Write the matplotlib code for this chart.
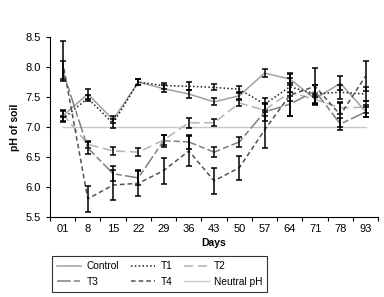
import numpy as np
import matplotlib.pyplot as plt

days = ['01', '8', '15', '22', '29', '36', '43', '50', '57', '64', '71', '78', '93']

control = [7.18, 7.55, 7.12, 7.75, 7.64, 7.55, 7.42, 7.52, 7.90, 7.80, 7.47, 7.73, 7.26]
control_err = [0.08, 0.08, 0.06, 0.05, 0.06, 0.07, 0.06, 0.06, 0.06, 0.10, 0.10, 0.12, 0.10]
t1 = [7.13, 7.48, 7.06, 7.75, 7.69, 7.68, 7.66, 7.63, 7.38, 7.67, 7.55, 7.58, 7.55]
t1_err = [0.05, 0.05, 0.08, 0.05, 0.05, 0.07, 0.05, 0.06, 0.10, 0.15, 0.15, 0.12, 0.12]
t2 = [7.22, 6.71, 6.60, 6.58, 6.78, 7.07, 7.07, 7.40, 7.28, 7.58, 7.46, 7.32, 7.33]
t2_err = [0.06, 0.06, 0.07, 0.07, 0.08, 0.08, 0.06, 0.05, 0.10, 0.15, 0.08, 0.10, 0.10]
t3 = [7.95, 6.65, 6.22, 6.15, 6.77, 6.75, 6.58, 6.75, 7.25, 7.38, 7.60, 7.05, 7.25]
t3_err = [0.15, 0.10, 0.12, 0.12, 0.10, 0.12, 0.08, 0.08, 0.15, 0.20, 0.10, 0.10, 0.08]
t4 = [8.10, 5.80, 6.03, 6.06, 6.27, 6.60, 6.10, 6.32, 6.95, 7.53, 7.68, 7.20, 7.85]
t4_err = [0.33, 0.22, 0.25, 0.22, 0.22, 0.25, 0.22, 0.20, 0.30, 0.35, 0.30, 0.20, 0.25]
neutral = [7.0] * len(days)

plt.rcParams['font.family'] = ['Liberation Sans Narrow', 'Liberation Sans', 'DejaVu Sans']

x = np.arange(len(days))

fig = plt.figure(figsize=(3.84, 2.97), dpi=100)
ax = fig.add_axes([0.13, 0.27, 0.855, 0.605])

ln_n, = ax.plot(x, neutral, color='#c8c8c8', lw=1.0, label='Neutral pH')
series = [
    (control, control_err, 'Control', '#a0a0a0', '-'),
    (t1, t1_err, 'T1', '#202020', (0, (1, 1.5))),
    (t2, t2_err, 'T2', '#b4b4b4', (0, (6, 3))),
    (t3, t3_err, 'T3', '#808080', (0, (9, 2, 4, 2))),
    (t4, t4_err, 'T4', '#505050', (0, (3, 2))),
]
lines = {}
for vals, err, name, col, ls in series:
    ln, = ax.plot(x, vals, color=col, ls=ls, lw=1.1, label=name)
    ax.errorbar(x, vals, yerr=err, fmt='none', ecolor='black', elinewidth=1.1,
                capsize=2.5, capthick=1.1)
    lines[name] = ln

ax.set_xlim(-0.5, len(days) - 0.5)
ax.set_ylim(5.5, 8.5)
ax.set_yticks(np.arange(5.5, 8.51, 0.5))
ax.set_yticklabels(['%.1f' % v for v in np.arange(5.5, 8.51, 0.5)])
ax.set_xticks(x)
ax.set_xticklabels(days)
ax.set_xticks(np.arange(-0.5, len(days), 1.0), minor=True)
ax.tick_params(axis='x', which='major', length=0, labelsize=8, pad=5)
ax.tick_params(axis='x', which='minor', length=3, width=0.8)
ax.tick_params(axis='y', length=3, width=0.8, labelsize=8)
for s in ['top', 'right']:
    ax.spines[s].set_visible(False)
ax.spines['left'].set_linewidth(0.8)
ax.spines['bottom'].set_linewidth(0.8)

ax.set_xlabel('Days', fontsize=7.5, fontweight='bold', labelpad=3)
ax.set_ylabel('pH of soil', fontsize=7.5, fontweight='bold', labelpad=4)

handles = [lines['Control'], lines['T3'], lines['T1'], lines['T4'], lines['T2'], ln_n]
leg = fig.legend(handles=handles, labels=[h.get_label() for h in handles], ncol=3,
                 loc='upper left', bbox_to_anchor=(52 / 384, 1 - 256 / 297),
                 fontsize=7.3, frameon=True, fancybox=False,
                 handlelength=2.4, handletextpad=0.5, columnspacing=1.2,
                 borderpad=0.5, labelspacing=0.55, borderaxespad=0)
leg.get_frame().set_edgecolor('black')
leg.get_frame().set_linewidth(0.8)

fig.savefig('out.png', dpi=100)
